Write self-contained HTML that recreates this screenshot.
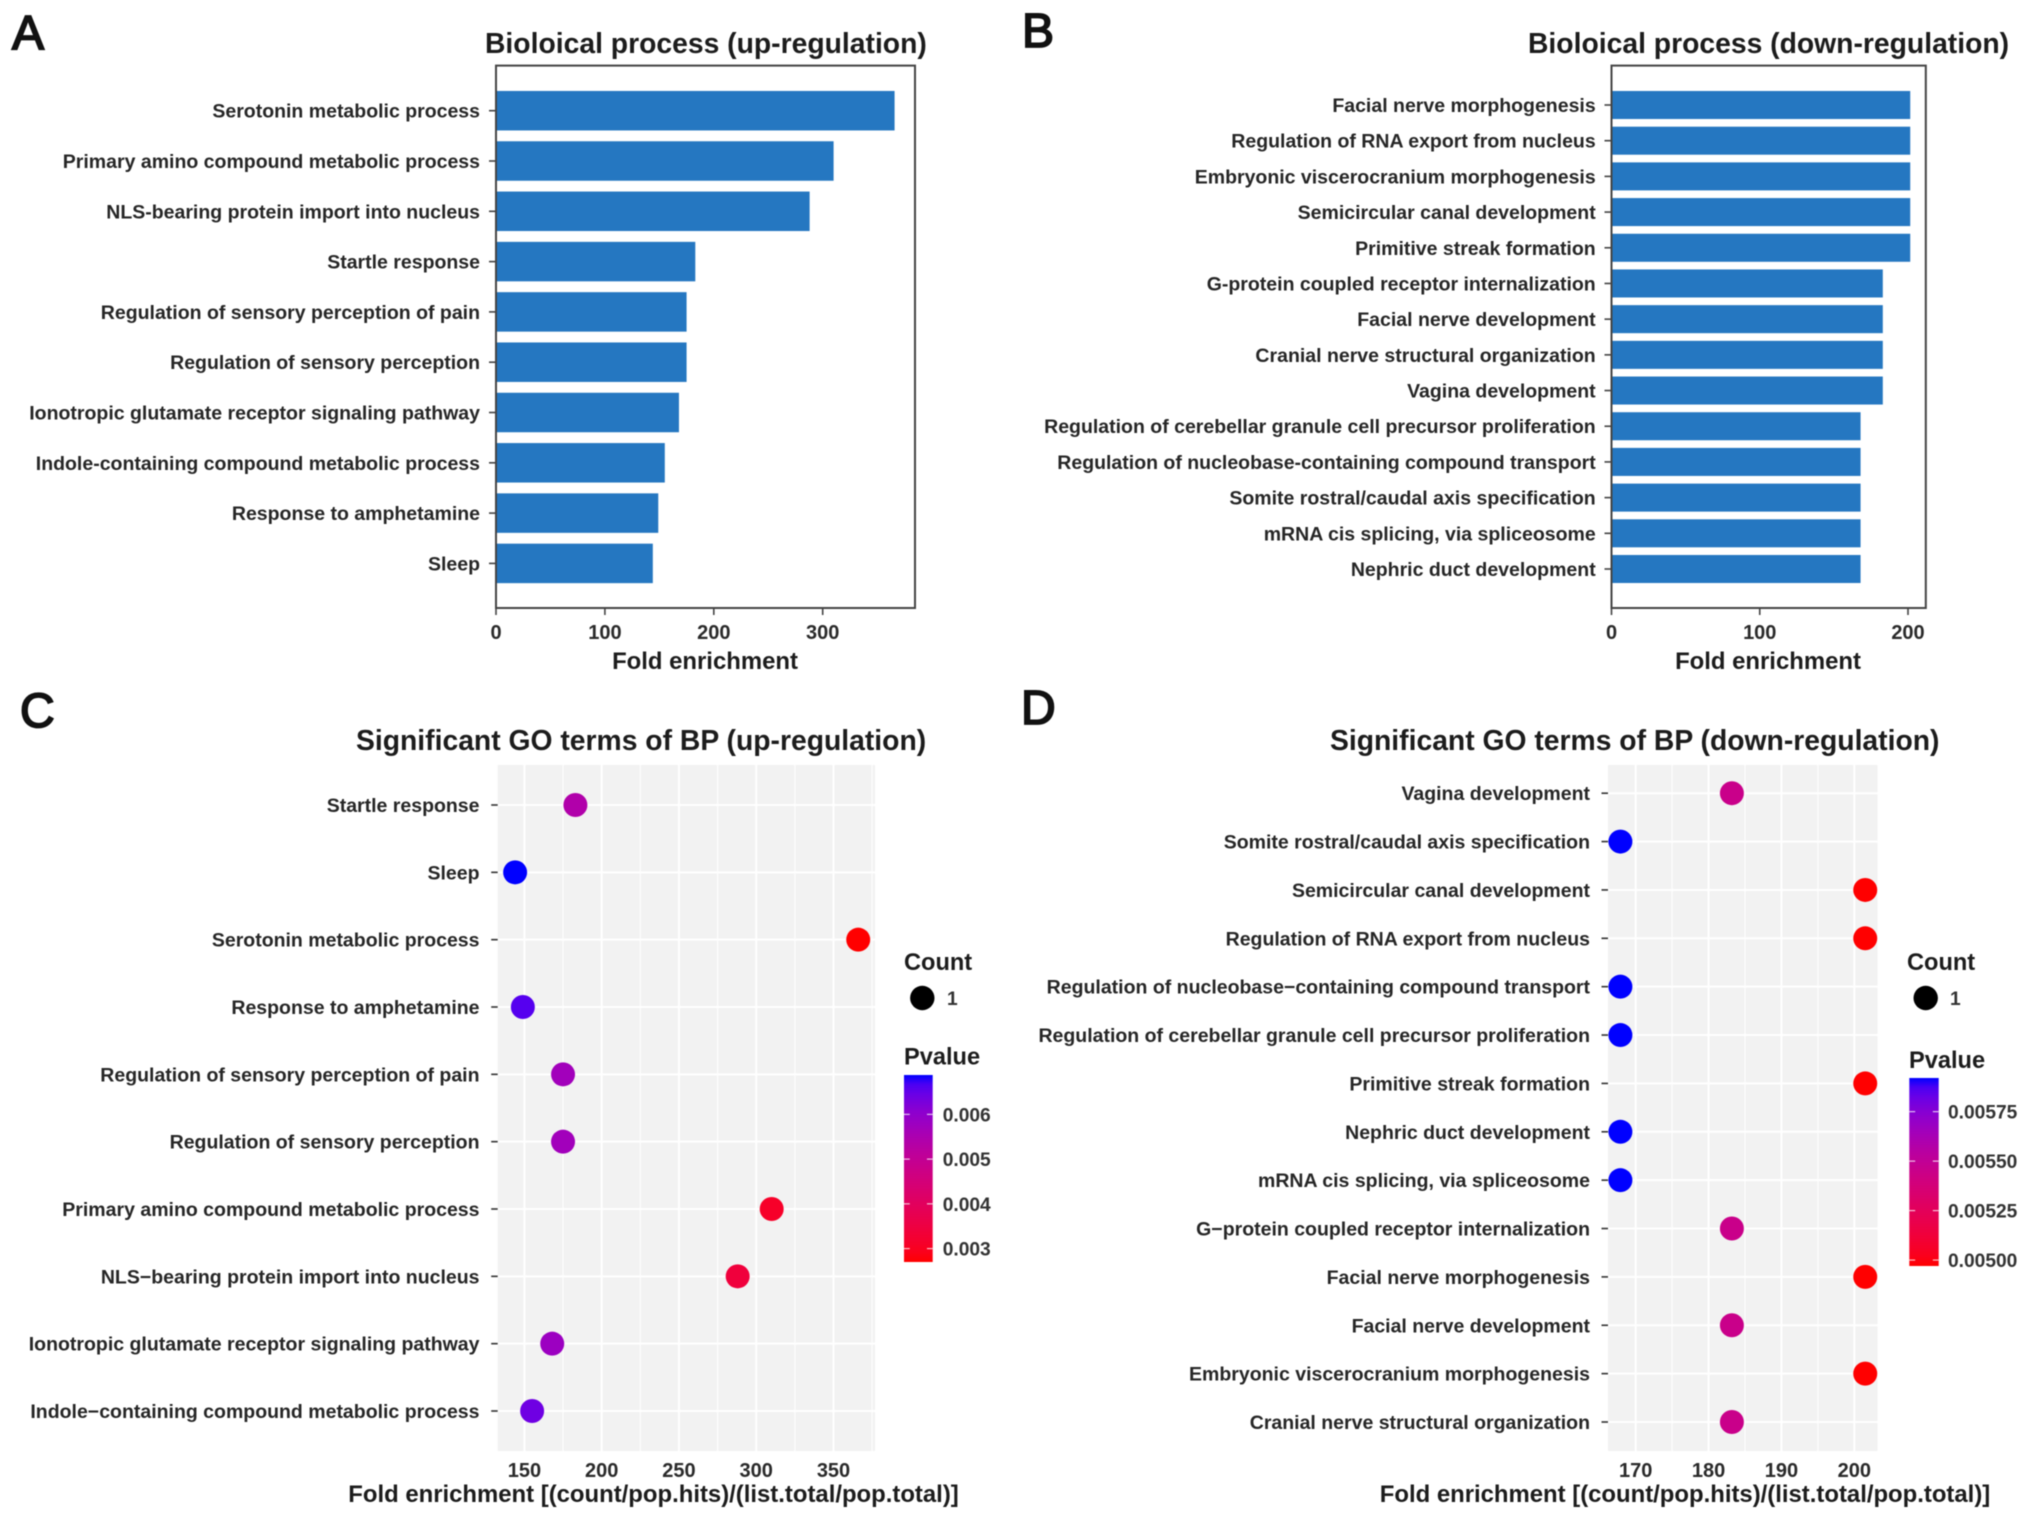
<!DOCTYPE html>
<html lang="en">
<head>
<meta charset="utf-8">
<title>GO enrichment of biological processes</title>
<style>
html,body{margin:0;padding:0;background:#fff;}
svg{display:block;filter:blur(0.55px);}
text{font-family:"Liberation Sans",Arial,sans-serif;font-weight:700;fill:#222;}
.letter{font-size:48px;font-weight:400;fill:#111;stroke:#111;stroke-width:1.8px;}
.title{font-size:28.3px;fill:#1c1c1c;}
.axis-title{font-size:23.9px;fill:#1c1c1c;}
.tick{font-size:20px;fill:#2a2a2a;}
.cat{font-size:19.5px;fill:#262626;}
.legend-title{font-size:23.6px;fill:#1c1c1c;}
.legend-label{font-size:19.2px;fill:#333;}
</style>
</head>
<body>
<svg id="figure" xmlns="http://www.w3.org/2000/svg" width="2031" height="1520" viewBox="0 0 2031 1520">
  <rect x="0" y="0" width="2031" height="1520" fill="#fff"/>

  <text class="letter" x="12" y="49">A</text>
  <text class="letter" x="1022" y="47">B</text>
  <text class="letter" x="20" y="727">C</text>
  <text class="letter" x="1021" y="724">D</text>

  <text class="title" x="485" y="53">Bioloical process (up-regulation)</text>
  <text class="title" x="1528" y="53">Bioloical process (down-regulation)</text>
  <text class="title" x="356" y="750">Significant GO terms of BP (up-regulation)</text>
  <text class="title" x="1330" y="750">Significant GO terms of BP (down-regulation)</text>

  <text class="axis-title" x="705" y="669" text-anchor="middle">Fold enrichment</text>
  <text class="axis-title" x="1768" y="669" text-anchor="middle">Fold enrichment</text>
  <text class="axis-title" x="653.5" y="1502" text-anchor="middle">Fold enrichment [(count/pop.hits)/(list.total/pop.total)]</text>
  <text class="axis-title" x="1685" y="1502" text-anchor="middle">Fold enrichment [(count/pop.hits)/(list.total/pop.total)]</text>

  <g id="panel-a"></g>
  <g id="panel-b"></g>
  <g id="panel-c"></g>
  <g id="panel-d"></g>
</svg>

<script>
var aCategories = ["Serotonin metabolic process","Primary amino compound metabolic process","NLS-bearing protein import into nucleus","Startle response","Regulation of sensory perception of pain","Regulation of sensory perception","Ionotropic glutamate receptor signaling pathway","Indole-containing compound metabolic process","Response to amphetamine","Sleep"];
var aValues = [366,310,288,183,175,175,168,155,149,144];
var aTicks = [0,100,200,300];

var bCategories = ["Facial nerve morphogenesis","Regulation of RNA export from nucleus","Embryonic viscerocranium morphogenesis","Semicircular canal development","Primitive streak formation","G-protein coupled receptor internalization","Facial nerve development","Cranial nerve structural organization","Vagina development","Regulation of cerebellar granule cell precursor proliferation","Regulation of nucleobase-containing compound transport","Somite rostral/caudal axis specification","mRNA cis splicing, via spliceosome","Nephric duct development"];
var bValues = [201.5,201.5,201.5,201.5,201.5,183,183,183,183,168,168,168,168,168];
var bTicks = [0,100,200];

var cCategories = ["Startle response","Sleep","Serotonin metabolic process","Response to amphetamine","Regulation of sensory perception of pain","Regulation of sensory perception","Primary amino compound metabolic process","NLS\u2212bearing protein import into nucleus","Ionotropic glutamate receptor signaling pathway","Indole\u2212containing compound metabolic process"];
var cFold = [183,144,366,149,175,175,310,288,168,155];
var cPvalue = [0.0054,0.00688,0.0027,0.0066,0.0057,0.0057,0.0031,0.0034,0.0058,0.0064];
var cTicks = [150,200,250,300,350];
var cMinorTicks = [175,225,275,325,375];
var cLegendTicks = [0.006,0.005,0.004,0.003];
var cLegendLabels = ["0.006","0.005","0.004","0.003"];

var dCategories = ["Vagina development","Somite rostral/caudal axis specification","Semicircular canal development","Regulation of RNA export from nucleus","Regulation of nucleobase\u2212containing compound transport","Regulation of cerebellar granule cell precursor proliferation","Primitive streak formation","Nephric duct development","mRNA cis splicing, via spliceosome","G\u2212protein coupled receptor internalization","Facial nerve morphogenesis","Facial nerve development","Embryonic viscerocranium morphogenesis","Cranial nerve structural organization"];
var dFold = [183.2,167.9,201.5,201.5,167.9,167.9,201.5,167.9,167.9,183.2,201.5,183.2,201.5,183.2];
var dPvalue = [0.00545,0.00592,0.00497,0.00497,0.00592,0.00592,0.00497,0.00592,0.00592,0.00545,0.00497,0.00545,0.00497,0.00545];
var dTicks = [170,180,190,200];
var dMinorTicks = [175,185,195];
var dLegendTicks = [0.00575,0.0055,0.00525,0.005];
var dLegendLabels = ["0.00575","0.00550","0.00525","0.00500"];

var SVGNS = "http://www.w3.org/2000/svg";

function linear(d0, d1, r0, r1) {
  return function (v) { return r0 + (v - d0) / (d1 - d0) * (r1 - r0); };
}
function make(parent, tag, attrs, txt) {
  var n = document.createElementNS(SVGNS, tag);
  for (var k in attrs) n.setAttribute(k, attrs[k]);
  if (txt !== undefined) n.textContent = txt;
  parent.appendChild(n);
  return n;
}

/* Colour scale: red to blue through Lab, as ggplot's gradient does */
var LAB_RED = [53.24, 80.09, 67.2];
var LAB_BLUE = [32.3, 79.19, -107.86];
function labToHex(L, a, b) {
  var fy = (L + 16) / 116, fx = fy + a / 500, fz = fy - b / 200;
  function inv(t) { return t > 0.206893 ? t * t * t : (t - 16 / 116) / 7.787; }
  var X = 0.95047 * inv(fx), Y = inv(fy), Z = 1.08883 * inv(fz);
  var rgb = [
    3.2406 * X - 1.5372 * Y - 0.4986 * Z,
    -0.9689 * X + 1.8758 * Y + 0.0415 * Z,
    0.0557 * X - 0.2040 * Y + 1.0570 * Z
  ];
  return "#" + rgb.map(function (c) {
    c = Math.max(0, Math.min(1, c));
    c = c <= 0.0031308 ? 12.92 * c : 1.055 * Math.pow(c, 1 / 2.4) - 0.055;
    var h = Math.round(c * 255).toString(16);
    return h.length < 2 ? "0" + h : h;
  }).join("");
}
function gradientColor(t) {
  t = Math.max(0, Math.min(1, t));
  return labToHex(
    LAB_RED[0] + (LAB_BLUE[0] - LAB_RED[0]) * t,
    LAB_RED[1] + (LAB_BLUE[1] - LAB_RED[1]) * t,
    LAB_RED[2] + (LAB_BLUE[2] - LAB_RED[2]) * t
  );
}

function drawBarPanel(id, categories, values, ticks, g) {
  var root = document.getElementById(id);
  var x = linear(0, g.tickRef, g.left, g.tickRefX);
  var y = linear(0, categories.length - 1, g.firstY, g.lastY);
  var barH = (g.lastY - g.firstY) / (categories.length - 1) * 0.785;
  categories.forEach(function (c, i) {
    var bar = make(root, "rect", { x: x(0), y: y(i) - barH / 2, width: x(values[i]) - x(0), height: barH, fill: "#2577c1" });
    
    
    var tk = make(root, "line", { x1: g.left - 7, x2: g.left, y1: y(i), y2: y(i), stroke: "#444", "stroke-width": 1.6 });
    
    
    var lb = make(root, "text", { "class": "cat", x: g.labelX, y: y(i) + 7, "text-anchor": "end" }, c);
    
    
  });
  var frame = make(root, "rect", { x: g.left, y: g.top, width: g.right - g.left, height: g.bottom - g.top, fill: "none", stroke: "#444", "stroke-width": 2 });
  
  
  ticks.forEach(function (t) {
    var tk = make(root, "line", { x1: x(t), x2: x(t), y1: g.bottom, y2: g.bottom + 7, stroke: "#444", "stroke-width": 1.6 });
    
    
    var lb = make(root, "text", { "class": "tick", x: x(t), y: 639, "text-anchor": "middle" }, String(t));
    
    
  });
}

function drawDotPanel(id, categories, fold, pvalue, ticks, minor, g, legendTicks, legendLabels) {
  var root = document.getElementById(id);
  var x = linear(g.t0, g.t1, g.t0X, g.t1X);
  var y = linear(0, categories.length - 1, g.firstY, g.lastY);
  var pT = linear(g.pMin, g.pMax, 0, 1);
  var bg = make(root, "rect", { x: g.left, y: g.top, width: g.right - g.left, height: g.bottom - g.top, fill: "#f2f2f2" });
  
  
  minor.forEach(function (t) {
    if (x(t) > g.right) return;
    var l = make(root, "line", { x1: x(t), x2: x(t), y1: g.top, y2: g.bottom, stroke: "#fff", "stroke-width": 1 });
    
    
  });
  ticks.forEach(function (t) {
    var l = make(root, "line", { x1: x(t), x2: x(t), y1: g.top, y2: g.bottom, stroke: "#fff", "stroke-width": 2 });
    
    
    var lb = make(root, "text", { "class": "tick", x: x(t), y: 1477, "text-anchor": "middle" }, String(t));
    
    
  });
  categories.forEach(function (c, i) {
    var l = make(root, "line", { x1: g.left, x2: g.right, y1: y(i), y2: y(i), stroke: "#fff", "stroke-width": 2 });
    
    
    var tk = make(root, "line", { x1: g.left - 6.5, x2: g.left, y1: y(i), y2: y(i), stroke: "#333", "stroke-width": 1.6 });
    
    
    var lb = make(root, "text", { "class": "cat", x: g.labelX, y: y(i) + 7, "text-anchor": "end" }, c);
    
    
  });
  categories.forEach(function (c, i) {
    var pt = make(root, "circle", { cx: x(fold[i]), cy: y(i), r: 12, fill: gradientColor(pT(pvalue[i])) });
    
    
  });

  /* legend */
  var countTitle = make(root, "text", { "class": "legend-title", x: g.countX, y: 970 }, "Count");
  
  
  var key = make(root, "circle", { cx: g.keyX, cy: 998, r: 12.2, fill: "#000" });
  
  
  var keyLabel = make(root, "text", { "class": "legend-label", x: g.keyLabelX, y: 1005 }, "1");
  
  
  var pTitle = make(root, "text", { "class": "legend-title", x: g.pTitleX, y: g.pTitleY }, "Pvalue");
  
  

  var gradId = id + "-gradient";
  var grad = make(root, "linearGradient", { id: gradId, x1: 0, y1: 1, x2: 0, y2: 0 });
  for (var s = 0; s <= 20; s++) {
    make(grad, "stop", { offset: (s * 5) + "%", "stop-color": gradientColor(s / 20) });
  }
  var bar = make(root, "rect", { x: g.barX, y: g.barTop, width: g.barW, height: g.barBottom - g.barTop, fill: "url(#" + gradId + ")" });
  
  
  var py = linear(g.pMin, g.pMax, g.barBottom, g.barTop);
  legendTicks.forEach(function (t, i) {
    var tl = make(root, "line", { x1: g.barX, x2: g.barX + g.barW / 5, y1: py(t), y2: py(t), stroke: "#fff", "stroke-opacity": 0.75, "stroke-width": 1.2 });
    
    
    var tr = make(root, "line", { x1: g.barX + g.barW * 0.8, x2: g.barX + g.barW, y1: py(t), y2: py(t), stroke: "#fff", "stroke-opacity": 0.75, "stroke-width": 1.2 });
    
    
    var lb = make(root, "text", { "class": "legend-label", x: g.legendLabelX, y: py(t) + 7 }, legendLabels[i]);
    
    
  });
}

drawBarPanel("panel-a", aCategories, aValues, aTicks, {
  left: 496, right: 915, top: 65.6, bottom: 608, tickRef: 300, tickRefX: 822.7,
  firstY: 110.7, lastY: 563.4, labelX: 480
});
drawBarPanel("panel-b", bCategories, bValues, bTicks, {
  left: 1611.5, right: 1925.8, top: 65.6, bottom: 608, tickRef: 200, tickRefX: 1908,
  firstY: 105, lastY: 569, labelX: 1595.7
});
drawDotPanel("panel-c", cCategories, cFold, cPvalue, cTicks, cMinorTicks, {
  left: 497.7, right: 875, top: 765, bottom: 1451, t0: 150, t1: 350, t0X: 524.4, t1X: 833.5,
  firstY: 805, lastY: 1411, labelX: 479.5,
  pMin: 0.0027, pMax: 0.00688,
  countX: 904, keyX: 922.3, keyLabelX: 947, pTitleX: 904, pTitleY: 1064.5,
  barX: 904, barW: 28.7, barTop: 1075, barBottom: 1262, legendLabelX: 942.7
}, cLegendTicks, cLegendLabels);
drawDotPanel("panel-d", dCategories, dFold, dPvalue, dTicks, dMinorTicks, {
  left: 1608, right: 1877.5, top: 765, bottom: 1451, t0: 170, t1: 200, t0X: 1635.7, t1X: 1854.3,
  firstY: 793.2, lastY: 1422, labelX: 1590,
  pMin: 0.00497, pMax: 0.00592,
  countX: 1907, keyX: 1925.7, keyLabelX: 1950, pTitleX: 1909, pTitleY: 1068,
  barX: 1909.3, barW: 29.4, barTop: 1078, barBottom: 1266, legendLabelX: 1948
}, dLegendTicks, dLegendLabels);
</script>
</body>
</html>
